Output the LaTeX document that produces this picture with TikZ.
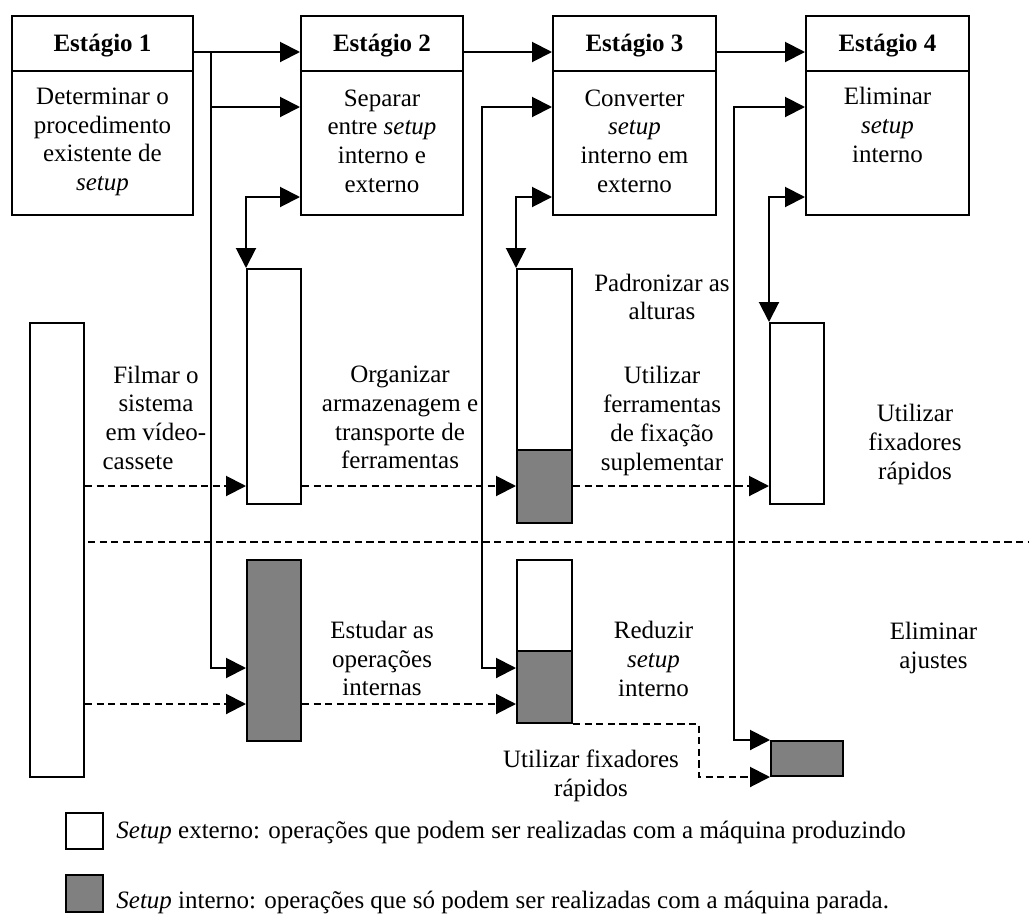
\documentclass[tikz,border=0pt]{standalone}
\usepackage{fontspec}
\setmainfont{Liberation Serif}
\usetikzlibrary{fit,arrows.meta}
\definecolor{intgray}{HTML}{808080}
\newcommand{\diagfont}{\fontsize{12.5}{14.35}\selectfont}
\tikzset{
  box/.style={draw, line width=1pt, inner sep=0pt, rectangle},
  wbox/.style={box, fill=white},
  gbox/.style={box, fill=intgray},
  txt/.style={font=\diagfont, align=center, inner sep=0pt},
  hdrtxt/.style={font=\diagfont\bfseries, inner sep=0pt},
  tip/.style={-{Triangle[length=10pt,width=10pt]}},
  arr/.style={line width=1pt, tip},
  darr/.style={arr, dash pattern=on 3.6pt off 2.2pt},
  biarr/.style={line width=1pt, {Triangle[length=10pt,width=10pt]}-{Triangle[length=10pt,width=10pt]}},
  dline/.style={line width=1pt, dash pattern=on 3.6pt off 2.2pt},
}
\begin{document}
\begin{tikzpicture}[x=0.5pt,y=-0.5pt]
\fill[white] (0,0) rectangle (1029,916);
\useasboundingbox (0,0) rectangle (1029,916);

% reference rows and columns for the connectors
\coordinate (yA) at (0,52);
\coordinate (yB) at (0,107);
\coordinate (yC) at (0,197);
\coordinate (yD) at (0,486);
\coordinate (yE) at (0,668);
\coordinate (yF) at (0,704);
\coordinate (xA) at (211,0);
\coordinate (xB) at (481.5,0);
\coordinate (xC) at (734,0);
\coordinate (xD) at (699,0);
\coordinate (dvR) at (1029,542);

% stage boxes
\node[box, fit={(12,16) (193,70.5)}] (s1h) {};
\node[box, fit={(12,70.5) (193,215)}] (s1b) {};
\node[box, fit={(301,16) (463,70.5)}] (s2h) {};
\node[box, fit={(301,70.5) (463,215)}] (s2b) {};
\node[box, fit={(553,16) (716,70.5)}] (s3h) {};
\node[box, fit={(553,70.5) (716,215)}] (s3b) {};
\node[box, fit={(806,16) (969,70.5)}] (s4h) {};
\node[box, fit={(806,70.5) (969,215)}] (s4b) {};

\node[hdrtxt] (h1) at ([yshift=-1pt]s1h.center) {Estágio 1};
\node[hdrtxt] (h2) at ([yshift=-1pt]s2h.center) {Estágio 2};
\node[hdrtxt] (h3) at ([yshift=-1pt]s3h.center) {Estágio 3};
\node[hdrtxt] (h4) at ([yshift=-1pt]s4h.center) {Estágio 4};

\node[txt] (t1) at (102.5,142) {Determinar o\\procedimento\\existente de\\\textit{setup}};
\node[txt] (t2) at (382,141) {Separar\\entre \textit{setup}\\interno e\\externo};
\node[txt] (t3) at (634.5,141) {Converter\\\textit{setup}\\interno em\\externo};
\node[txt] (t4) at (887.5,125) {Eliminar\\\textit{setup}\\interno};

% dividing line between external and internal setup
\draw[dline] (30,542) -- (dvR);

% activity bars
\node[wbox, fit={(30,323) (84,777)}] (b1) {};
\node[wbox, fit={(247,269) (301,504)}] (b2u) {};
\node[wbox, fit={(517,269) (572,450)}] (b3w) {};
\node[gbox, fit={(517,450) (572,523)}] (b3g) {};
\node[wbox, fit={(770,323) (824,504)}] (b4) {};
\node[gbox, fit={(247,560) (301,741)}] (b2l) {};
\node[wbox, fit={(517,560) (572,651)}] (b3lw) {};
\node[gbox, fit={(517,651) (572,723)}] (b3lg) {};
\node[gbox, fit={(771,741) (843,776)}] (sb) {};

% activity labels
\node[txt] (tF) at (156,417.5) {Filmar o\\sistema\\em vídeo-\\cassete\hspace*{18pt}};
\node[txt] (tO) at (400,417.5) {Organizar\\armazenagem e\\transporte de\\ferramentas};
\node[txt] (tP) at (662,297) {Padronizar as\\alturas};
\node[txt] (tU) at (662,421) {Utilizar\\ferramentas\\de fixação\\suplementar};
\node[txt] (tR) at (915,444.5) {Utilizar\\fixadores\\rápidos};
\node[txt] (tE) at (382,658.5) {Estudar as\\operações\\internas};
\node[txt] (tRd) at (653.5,659) {Reduzir\\\textit{setup}\\interno};
\node[txt] (tEl) at (933.5,648) {Eliminar\\ajustes};
\node[txt] (tUb) at (591,776) {Utilizar fixadores\\rápidos};

% stage to stage
\draw[arr] (s1h.east |- yA) -- (s2h.west |- yA);
\draw[arr] (s2h.east |- yA) -- (s3h.west |- yA);
\draw[arr] (s3h.east |- yA) -- (s4h.west |- yA);

% stage 1 feeds
\draw[arr] (xA |- yA) |- (b2l.west |- yE);
\draw[arr] (xA |- yB) -- (s2b.west |- yB);

% stage 2 feeds
\draw[biarr] (s3b.west |- yB) -| (xB |- yE) -- (b3lg.west |- yE);
% stage 3 feeds
\draw[biarr] (s4b.west |- yB) -| (xC |- sb.north west) -- (sb.north west);

% stage to its own bar
\draw[biarr] (s2b.west |- yC) -| (b2u.north west);
\draw[biarr] (s3b.west |- yC) -| (b3w.north west);
\draw[biarr] (s4b.west |- yC) -| (b4.north west);

% external setup flow
\draw[darr] (b1.east |- yD) -- (b2u.west |- yD);
\draw[darr] (b2u.east |- yD) -- (b3g.west |- yD);
\draw[darr] (b3g.east |- yD) -- (b4.west |- yD);

% internal setup flow
\draw[darr] (b1.east |- yF) -- (b2l.west |- yF);
\draw[darr] (b2l.east |- yF) -- (b3lg.west |- yF);
\draw[darr] (b3lg.south east) -| (xD |- sb.south west) -- (sb.south west);

% legend
\node[wbox, fit={(66,813) (103,849)}] (lw) {};
\node[gbox, fit={(66,875) (103,912)}] (lg) {};
\node[font=\diagfont, anchor=base west, inner sep=0pt] (lwt) at (116,838) {\textit{Setup} externo: operações que podem ser realizadas com a máquina produzindo};
\node[font=\diagfont, anchor=base west, inner sep=0pt] (lgt) at (116,908) {\textit{Setup} interno: operações que só podem ser realizadas com a máquina parada.};
\end{tikzpicture}
\end{document}
